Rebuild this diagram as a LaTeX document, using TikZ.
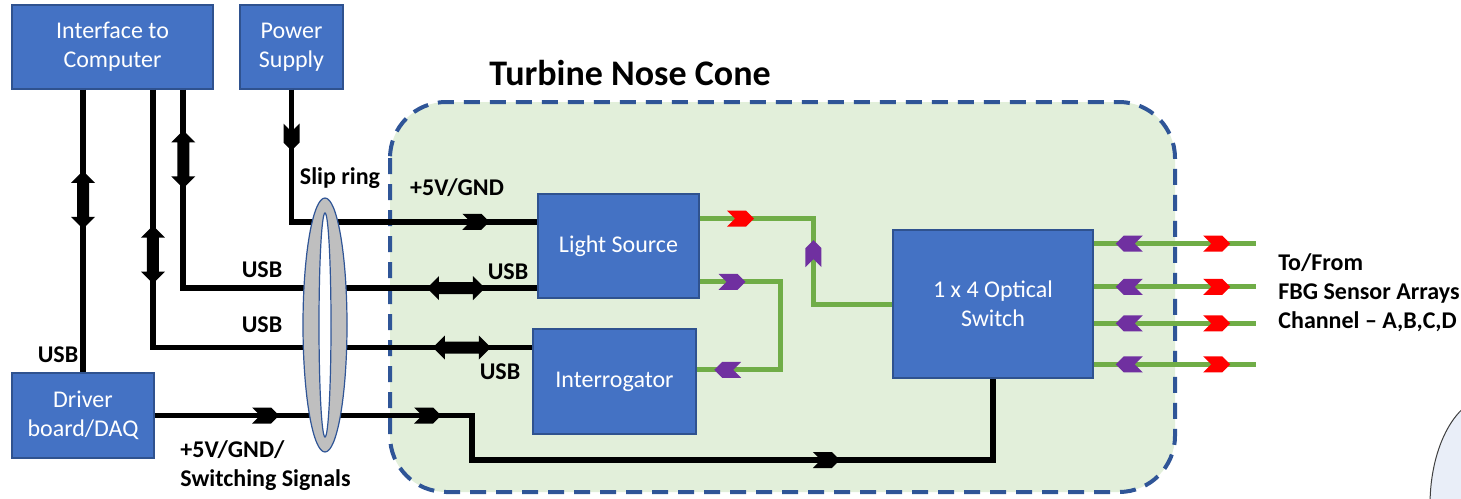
\documentclass[tikz,border=0pt]{standalone}
\usepackage{fontspec}
\setmainfont{Carlito}
\usetikzlibrary{calc}
\definecolor{boxblue}{RGB}{68,114,196}
\definecolor{boxedge}{RGB}{47,82,143}
\definecolor{nosefill}{RGB}{226,239,218}
\definecolor{nosedash}{RGB}{47,85,151}
\definecolor{optgreen}{RGB}{112,173,71}
\definecolor{chevred}{RGB}{255,0,0}
\definecolor{chevpurple}{RGB}{112,48,160}
\definecolor{ringgray}{RGB}{191,191,191}
\definecolor{cornerblue}{RGB}{233,238,248}
\tikzset{
  chev/.pic={\fill[#1] (-13.5,8) -- (5.5,8) -- (13.5,0) -- (5.5,-8) -- (-13.5,-8) -- (-5.5,0) -- cycle;},
  chevrev/.pic={\fill[#1] (13.5,8) -- (-5.5,8) -- (-13.5,0) -- (-5.5,-8) -- (13.5,-8) -- (5.5,0) -- cycle;},
  dblarr/.pic={\fill[black] (-29,0) -- (-17,12) -- (-17,6) -- (17,6) -- (17,12) -- (29,0)
    -- (17,-12) -- (17,-6) -- (-17,-6) -- (-17,-12) -- cycle;}
}

\begin{document}
\begin{tikzpicture}[x=0.5pt,y=-0.5pt,
  unit/.style={draw=boxedge, fill=boxblue, text=white, align=center, inner sep=0pt,
    line width=0.6pt, font=\fontsize{12}{14.5}\selectfont},
  lbl/.style={font=\bfseries\fontsize{12}{14.5}\selectfont, inner sep=0pt},
  wire/.style={line width=2.8pt, draw=black},
  fibre/.style={line width=2.5pt, draw=optgreen},
  mk/.style={pos=#1, sloped, allow upside down}]
  \useasboundingbox (0,0) rectangle (1461,498);

  % nose cone region
  \draw[draw=nosedash, fill=nosefill, line width=2pt, dash pattern=on 8pt off 5pt,
    rounded corners=28pt] (390,102) rectangle (1175,492);
  \node[lbl, font=\bfseries\fontsize{18}{20}\selectfont] (title) at (630,73) {Turbine Nose Cone};

  % blocks
  \node[unit, minimum width=100.5pt, minimum height=42pt] (ifc) at (112.5,47) {Interface to\\Computer};
  \node[unit, minimum width=51.5pt, minimum height=42pt] (psu) at (291.5,47) {Power\\Supply};
  \node[unit, minimum width=71pt, minimum height=42.5pt] (drv) at (83,415.5) {Driver\\board/DAQ};
  \node[unit, minimum width=80.5pt, minimum height=52pt] (ls) at (618.5,246) {Light Source};
  \node[unit, minimum width=81.5pt, minimum height=52.5pt] (intg) at (614.5,381.5) {Interrogator};
  \node[unit, minimum width=100pt, minimum height=74pt] (osw) at (993,304) {1 x 4 Optical\\Switch};

  % ports
  \coordinate (ifcA) at ($(ifc.south west)!0.85!(ifc.south east)$);
  \coordinate (ifcB) at ($(ifc.south west)!0.70!(ifc.south east)$);
  \coordinate (lsP) at ($(ls.north west)!0.27!(ls.south west)$);
  \coordinate (lsU) at ($(ls.north west)!0.9!(ls.south west)$);
  \coordinate (intgU) at ($(intg.north west)!0.18!(intg.south west)$);
  \coordinate (lsR1) at ($(ls.north east)!0.24!(ls.south east)$);
  \coordinate (lsR2) at ($(ls.north east)!0.84!(ls.south east)$);
  \coordinate (intgR) at ($(intg.north east)!0.39!(intg.south east)$);
  \coordinate (bendA) at ([xshift=-39.5pt]osw.west);
  \coordinate (bendB) at ([xshift=42pt]intgR);
  \coordinate (drvturn) at (472,460);

  % electrical wires
  \draw[wire] (psu.south) |- (lsP) pic[mk=.18]{chev=black} pic[mk=.875]{chev=black};
  \draw[wire] (ifcA) |- (lsU) pic[mk=.176]{dblarr} pic[mk=.885]{dblarr};
  \draw[wire] (ifcB) |- (intgU) pic[mk=.32]{dblarr} pic[mk=.907]{dblarr};
  \draw[wire] (drv.north |- ifc.south) -- (drv.north) pic[mk=.39]{dblarr};
  \draw[wire] (drv.east) -| (drvturn) pic[mk=.175]{chev=black} pic[mk=.43]{chev=black}
    -| (osw.south) pic[mk=.34]{chev=black};

  % fibres
  \draw[fibre] (lsR1) -| (bendA) pic[mk=.18]{chev=chevred} pic[mk=.705]{chevrev=chevpurple} -- (osw.west);
  \draw[fibre] (lsR2) -| (bendB) pic[mk=.2]{chev=chevpurple} -- (intgR) pic[mk=.63]{chev=chevpurple};
  \foreach \f [count=\i] in {0.095,0.385,0.63,0.905}{
    \path ($(osw.north east)!\f!(osw.south east)$) coordinate (sw\i) ++(162,0) coordinate (fbg\i);
    \draw[fibre] (sw\i) -- (fbg\i) pic[mk=.22]{chevrev=chevpurple} pic[mk=.76]{chev=chevred};
  }

  % slip ring
  \draw[draw=nosedash, line width=0.6pt, fill=ringgray] (325,325) ellipse [x radius=11pt, y radius=63.5pt];
  \draw[draw=nosedash, line width=0.6pt, fill=white] (325,325) ellipse [x radius=3pt, y radius=56pt];

  % labels
  \node[lbl] (sliplbl) at (340,178) {Slip ring};
  \node[lbl] (pwrlbl) at (457,188) {+5V/GND};
  \node[lbl] (usbA) at (262,270) {USB};
  \node[lbl] (usbB) at (508,272) {USB};
  \node[lbl] (usbC) at (262,325) {USB};
  \node[lbl] (usbD) at (500,372) {USB};
  \node[lbl] (usbE) at (58,355) {USB};
  \node[lbl, align=left, anchor=west] (swlbl) at (180,466) {+5V/GND/\\Switching Signals};
  \node[lbl, align=left, anchor=west] (fbglbl) at (1278,293) {To/From\\FBG Sensor Arrays\\Channel – A,B,C,D};

  % neighbouring shape at the corner
  \draw[draw=black!75, fill=cornerblue, line width=0.5pt] (1490,505) ellipse [x radius=30pt, y radius=54pt];
\end{tikzpicture}
\end{document}
